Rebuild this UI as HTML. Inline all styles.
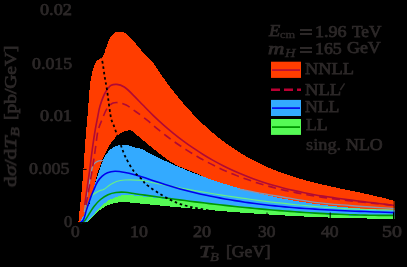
<!DOCTYPE html>
<html><head><meta charset="utf-8"><style>*{margin:0;padding:0}
html,body{width:407px;height:267px;background:#000;overflow:hidden;position:relative}
.t{position:absolute;font-family:"Liberation Serif",serif;color:#2c2828;white-space:nowrap;line-height:1;font-weight:normal;-webkit-text-stroke:0.75px currentColor;transform-origin:0 0;will-change:transform}
.sub{font-size:70%;vertical-align:-0.25em}
.ylab{position:absolute;font-family:"Liberation Serif",serif;color:#2c2828;white-space:nowrap;line-height:1;font-weight:normal;-webkit-text-stroke:0.75px currentColor;transform-origin:0 0;will-change:transform}
</style></head>
<body>
<svg width="407" height="267" viewBox="0 0 407 267" style="position:absolute;left:0;top:0">
<defs><clipPath id="pc"><rect x="77" y="0" width="317.5" height="223.5"/></clipPath></defs>
<g clip-path="url(#pc)">
<path d="M78.30 223.00 C78.93 217.00 79.61 210.73 80.20 205.00 C80.74 199.77 81.20 195.36 81.70 190.00 C82.27 183.81 82.90 176.67 83.40 170.00 C83.90 163.34 84.23 156.67 84.70 150.00 C85.17 143.33 85.72 135.52 86.20 130.00 C86.54 126.09 86.89 123.41 87.20 120.00 C87.53 116.42 87.78 113.17 88.10 109.00 C88.53 103.53 88.99 95.32 89.50 90.00 C89.87 86.13 90.13 83.36 90.70 80.00 C91.29 76.53 92.03 72.67 93.00 69.50 C93.84 66.75 94.70 63.87 96.00 62.00 C96.99 60.57 98.33 59.63 99.50 58.80 C100.49 58.10 101.75 57.99 102.50 57.20 C103.26 56.40 103.53 55.17 104.00 54.00 C104.54 52.64 104.95 51.07 105.50 49.50 C106.11 47.75 106.77 45.86 107.50 44.00 C108.27 42.03 108.89 39.83 110.00 38.00 C111.12 36.16 112.50 34.08 114.20 33.00 C115.80 31.98 117.93 31.50 119.80 31.50 C121.67 31.50 123.57 31.96 125.40 33.00 C127.73 34.32 130.00 37.24 132.20 39.60 C134.50 42.06 136.82 45.05 138.90 47.50 C140.72 49.64 142.02 51.33 144.00 53.50 C146.54 56.28 150.08 59.10 153.00 62.67 C156.44 66.87 159.61 72.63 163.00 77.39 C166.28 82.00 169.62 86.48 173.00 90.82 C176.29 95.02 179.62 99.09 183.00 103.02 C186.29 106.84 189.62 110.53 193.00 114.08 C196.29 117.53 199.62 120.86 203.00 124.05 C206.29 127.17 209.63 130.15 213.00 133.01 C216.30 135.81 219.63 138.48 223.00 141.03 C226.30 143.53 229.64 145.91 233.00 148.18 C236.30 150.41 239.64 152.52 243.00 154.52 C246.31 156.50 249.64 158.36 253.00 160.13 C256.31 161.88 259.65 163.52 263.00 165.08 C266.31 166.62 269.65 168.06 273.00 169.43 C276.32 170.78 279.65 172.05 283.00 173.25 C286.32 174.45 289.66 175.56 293.00 176.62 C296.32 177.68 299.66 178.66 303.00 179.60 C306.33 180.54 309.66 181.42 313.00 182.27 C316.33 183.11 319.66 183.91 323.00 184.68 C326.33 185.46 329.66 186.19 333.00 186.92 C336.33 187.65 339.67 188.35 343.00 189.05 C346.33 189.76 349.67 190.44 353.00 191.14 C356.33 191.84 359.67 192.54 363.00 193.26 C366.34 193.99 369.67 194.72 373.00 195.48 C376.34 196.25 379.67 197.04 383.00 197.87 C386.34 198.71 391.14 200.00 393.00 200.50 C393.72 200.70 394.00 200.78 394.50 200.92 L394.50 212.00 C351.33 207.67 298.31 206.26 265.00 199.00 C243.21 194.25 223.65 185.69 212.30 181.00 C206.67 178.68 203.63 176.67 200.00 175.00 C197.18 173.70 194.92 172.76 192.40 171.70 C189.92 170.66 187.48 169.70 185.00 168.70 C182.51 167.70 179.95 166.92 177.50 165.70 C174.95 164.43 172.47 162.80 170.00 161.20 C167.47 159.57 164.97 157.84 162.50 156.00 C159.97 154.11 157.50 152.00 155.00 150.00 C152.50 148.00 149.98 146.07 147.50 144.00 C144.98 141.90 142.06 139.12 140.00 137.50 C138.64 136.43 137.76 135.99 136.50 135.00 C134.89 133.75 132.92 131.13 131.20 130.50 C129.94 130.04 128.92 130.23 127.50 130.50 C125.40 130.90 122.35 131.95 120.00 133.50 C117.31 135.28 114.67 138.25 112.50 141.00 C110.34 143.75 108.63 147.05 107.00 150.00 C105.50 152.71 104.11 155.39 103.00 158.00 C101.98 160.38 101.40 162.46 100.50 165.00 C99.43 168.04 98.18 171.06 97.00 175.00 C95.36 180.49 93.98 188.38 92.00 195.00 C89.99 201.71 87.83 210.02 85.00 215.00 C83.01 218.50 80.53 220.33 78.30 223.00 Z" fill="#ff3d00" shape-rendering="crispEdges"/>
<path d="M79.00 223.00 C82.40 217.00 86.62 211.33 89.20 205.00 C91.78 198.67 92.66 191.16 94.50 185.00 C96.11 179.61 97.83 174.71 99.50 170.00 C101.00 165.76 102.34 161.24 104.00 158.00 C105.24 155.57 106.52 153.75 108.00 152.00 C109.37 150.38 110.68 148.93 112.50 147.80 C114.58 146.51 117.46 145.46 120.00 145.00 C122.46 144.56 125.03 144.60 127.50 145.00 C130.03 145.41 132.73 146.95 135.00 147.50 C136.81 147.94 138.11 147.65 140.00 148.27 C142.83 149.19 146.66 151.79 150.00 153.49 C153.32 155.17 156.66 156.82 160.00 158.42 C163.32 160.01 166.66 161.57 170.00 163.08 C173.32 164.58 176.66 166.04 180.00 167.46 C183.33 168.87 186.66 170.25 190.00 171.58 C193.33 172.91 196.66 174.20 200.00 175.45 C203.33 176.69 206.66 177.89 210.00 179.06 C213.33 180.22 216.66 181.35 220.00 182.43 C223.33 183.52 226.66 184.56 230.00 185.57 C233.33 186.58 236.66 187.55 240.00 188.49 C243.33 189.42 246.66 190.32 250.00 191.18 C253.33 192.04 256.66 192.87 260.00 193.66 C263.33 194.46 266.66 195.22 270.00 195.94 C273.33 196.67 276.66 197.36 280.00 198.03 C283.33 198.69 286.66 199.32 290.00 199.92 C293.33 200.52 296.66 201.09 300.00 201.63 C303.33 202.17 306.66 202.68 310.00 203.17 C313.33 203.65 316.66 204.11 320.00 204.54 C323.33 204.97 326.67 205.37 330.00 205.75 C333.33 206.13 336.67 206.48 340.00 206.81 C343.33 207.14 346.67 207.45 350.00 207.73 C353.33 208.01 356.67 208.27 360.00 208.51 C363.33 208.75 366.67 208.96 370.00 209.16 C373.33 209.35 376.67 209.53 380.00 209.69 C383.33 209.84 387.32 210.00 390.00 210.10 C391.80 210.17 393.00 210.20 394.50 210.25 L394.50 215.69 C391.33 215.75 388.21 215.83 385.00 215.87 C381.71 215.91 378.33 215.93 375.00 215.93 C371.67 215.93 368.33 215.91 365.00 215.87 C361.67 215.82 358.33 215.76 355.00 215.68 C351.67 215.60 348.33 215.49 345.00 215.38 C341.67 215.26 338.33 215.12 335.00 214.97 C331.67 214.82 328.33 214.65 325.00 214.46 C321.67 214.28 318.33 214.08 315.00 213.86 C311.67 213.65 308.33 213.42 305.00 213.18 C301.67 212.94 298.33 212.68 295.00 212.42 C291.67 212.15 288.33 211.88 285.00 211.59 C281.67 211.30 278.33 211.00 275.00 210.70 C271.67 210.39 268.33 210.07 265.00 209.75 C261.67 209.42 258.33 209.09 255.00 208.75 C251.67 208.41 248.33 208.07 245.00 207.71 C241.67 207.36 238.33 207.00 235.00 206.64 C231.67 206.28 228.33 205.91 225.00 205.55 C221.67 205.18 218.33 204.80 215.00 204.43 C211.67 204.05 208.33 203.68 205.00 203.30 C201.67 202.92 198.33 202.54 195.00 202.16 C191.67 201.79 188.33 201.41 185.00 201.03 C181.67 200.66 178.33 200.28 175.00 199.91 C171.67 199.54 168.33 199.17 165.00 198.81 C161.67 198.44 158.33 198.08 155.00 197.72 C151.67 197.37 148.33 197.02 145.00 196.68 C141.67 196.33 138.33 195.99 135.00 195.66 C131.67 195.33 128.02 194.44 125.00 194.70 C122.44 194.92 120.50 195.76 118.00 196.60 C114.98 197.61 111.27 198.64 108.20 200.50 C104.91 202.49 101.72 205.66 99.00 208.40 C96.51 210.91 94.67 213.85 92.40 216.20 C90.29 218.38 87.48 221.04 85.90 222.10 C85.13 222.62 84.63 222.70 84.00 223.00 Z" fill="#33aaff" shape-rendering="crispEdges"/>
<path d="M84.00 223.00 C84.63 222.70 85.13 222.62 85.90 222.10 C87.48 221.04 90.29 218.38 92.40 216.20 C94.67 213.85 96.51 210.91 99.00 208.40 C101.72 205.66 104.91 202.49 108.20 200.50 C111.27 198.64 114.98 197.61 118.00 196.60 C120.50 195.76 122.44 194.92 125.00 194.70 C128.02 194.44 131.67 195.33 135.00 195.66 C138.33 195.99 141.67 196.33 145.00 196.68 C148.33 197.02 151.67 197.37 155.00 197.72 C158.33 198.08 161.67 198.44 165.00 198.81 C168.33 199.17 171.67 199.54 175.00 199.91 C178.33 200.28 181.67 200.66 185.00 201.03 C188.33 201.41 191.67 201.79 195.00 202.16 C198.33 202.54 201.67 202.92 205.00 203.30 C208.33 203.68 211.67 204.05 215.00 204.43 C218.33 204.80 221.67 205.18 225.00 205.55 C228.33 205.91 231.67 206.28 235.00 206.64 C238.33 207.00 241.67 207.36 245.00 207.71 C248.33 208.07 251.67 208.41 255.00 208.75 C258.33 209.09 261.67 209.42 265.00 209.75 C268.33 210.07 271.67 210.39 275.00 210.70 C278.33 211.00 281.67 211.30 285.00 211.59 C288.33 211.88 291.67 212.15 295.00 212.42 C298.33 212.68 301.67 212.94 305.00 213.18 C308.33 213.42 311.67 213.65 315.00 213.86 C318.33 214.08 321.67 214.28 325.00 214.46 C328.33 214.65 331.67 214.82 335.00 214.97 C338.33 215.12 341.67 215.26 345.00 215.38 C348.33 215.49 351.67 215.60 355.00 215.68 C358.33 215.76 361.67 215.82 365.00 215.87 C368.33 215.91 371.67 215.93 375.00 215.93 C378.33 215.93 381.71 215.91 385.00 215.87 C388.21 215.83 391.33 215.75 394.50 215.69 L394.50 218.68 C394.03 218.68 393.78 218.68 393.10 218.68 C391.28 218.68 386.43 218.69 383.10 218.67 C379.77 218.66 376.43 218.63 373.10 218.60 C369.77 218.56 366.43 218.52 363.10 218.46 C359.77 218.41 356.43 218.34 353.10 218.27 C349.77 218.19 346.43 218.11 343.10 218.01 C339.77 217.92 336.43 217.81 333.10 217.70 C329.77 217.59 326.43 217.47 323.10 217.34 C319.77 217.21 316.43 217.07 313.10 216.92 C309.77 216.78 306.43 216.62 303.10 216.46 C299.77 216.30 296.43 216.13 293.10 215.95 C289.77 215.77 286.43 215.58 283.10 215.39 C279.77 215.19 276.43 214.99 273.10 214.79 C269.77 214.58 266.43 214.36 263.10 214.14 C259.77 213.92 256.43 213.69 253.10 213.46 C249.77 213.22 246.43 212.98 243.10 212.73 C239.77 212.49 236.43 212.23 233.10 211.98 C229.77 211.72 226.43 211.45 223.10 211.18 C219.77 210.91 216.43 210.64 213.10 210.36 C209.77 210.08 206.43 209.80 203.10 209.51 C199.77 209.22 196.43 208.92 193.10 208.62 C189.77 208.33 186.43 208.02 183.10 207.72 C179.77 207.41 176.43 207.10 173.10 206.78 C169.77 206.47 166.43 206.15 163.10 205.83 C159.77 205.51 156.43 205.18 153.10 204.85 C149.77 204.53 146.43 204.20 143.10 203.86 C139.77 203.53 136.43 203.19 133.10 202.85 C129.77 202.51 125.88 201.79 123.10 201.83 C121.11 201.86 119.96 202.11 118.00 202.50 C115.25 203.04 111.21 203.85 108.20 205.10 C105.34 206.29 102.73 207.93 100.30 209.70 C97.91 211.44 95.59 213.81 93.70 215.60 C92.21 217.01 91.13 218.28 89.80 219.50 C88.52 220.67 87.45 222.13 85.90 222.80 C84.23 223.53 81.97 223.27 80.00 223.50 Z" fill="#55fa55" shape-rendering="crispEdges"/>
<path d="M84.30 212.00 C85.20 206.33 86.00 200.74 87.00 195.00 C88.03 189.08 89.48 181.89 90.40 177.00 C91.03 173.64 91.28 170.88 92.00 168.50 C92.56 166.67 93.02 165.02 94.00 163.80 C94.90 162.68 96.27 161.83 97.50 161.30 C98.62 160.82 99.93 160.71 101.00 160.60 C101.90 160.51 102.67 160.60 103.50 160.60" fill="none" stroke="#8a94b0" stroke-width="1.3"/>
<path d="M238.00 189.00 C242.00 189.73 245.78 190.42 250.00 191.20 C254.72 192.07 260.00 193.12 265.00 194.00 C270.00 194.88 273.96 195.50 280.00 196.50 C289.23 198.03 303.31 200.80 315.00 202.30 C326.64 203.79 337.63 204.50 350.00 205.50 C363.94 206.62 379.67 207.57 394.50 208.60" fill="none" stroke="#8a94b0" stroke-width="1.3"/>
<path d="M84.00 218.00 C85.07 213.90 85.76 209.57 87.20 205.70 C88.59 201.99 90.20 197.69 92.40 195.20 C94.14 193.24 96.56 192.14 98.50 191.20 C100.06 190.44 101.91 190.13 103.00 189.70 C103.64 189.44 103.86 189.38 104.50 189.00 C105.86 188.18 108.44 185.77 110.50 184.50 C112.45 183.30 114.27 182.24 116.50 181.50 C119.03 180.66 121.67 180.25 125.00 180.00 C129.64 179.66 136.94 179.90 141.80 180.45 C145.58 180.88 148.47 181.82 151.80 182.48 C155.13 183.15 158.47 183.81 161.80 184.46 C165.13 185.12 168.47 185.76 171.80 186.39 C175.13 187.02 178.47 187.64 181.80 188.25 C185.13 188.87 188.47 189.47 191.80 190.06 C195.13 190.65 198.47 191.23 201.80 191.80 C205.13 192.37 208.47 192.93 211.80 193.48 C215.13 194.02 218.47 194.56 221.80 195.09 C225.13 195.61 228.47 196.12 231.80 196.62 C235.13 197.13 238.47 197.62 241.80 198.09 C245.13 198.57 248.47 199.03 251.80 199.49 C255.13 199.94 258.47 200.38 261.80 200.80 C265.13 201.23 268.47 201.64 271.80 202.04 C275.13 202.44 278.47 202.83 281.80 203.20 C285.13 203.57 288.47 203.93 291.80 204.28 C295.13 204.62 298.47 204.95 301.80 205.27 C305.13 205.58 308.47 205.89 311.80 206.17 C315.13 206.46 318.47 206.73 321.80 206.99 C325.13 207.24 328.47 207.49 331.80 207.71 C335.13 207.94 338.47 208.15 341.80 208.34 C345.13 208.53 348.47 208.71 351.80 208.87 C355.13 209.04 358.47 209.18 361.80 209.31 C365.13 209.44 368.47 209.55 371.80 209.65 C375.13 209.74 378.47 209.82 381.80 209.88 C385.13 209.94 389.52 209.98 391.80 210.01 C392.98 210.02 393.60 210.02 394.50 210.02" fill="none" stroke="#66ee88" stroke-width="1.2"/>
<path d="M81.00 223.00 C82.20 222.27 83.49 221.88 84.60 220.80 C86.04 219.41 87.09 217.04 88.50 214.90 C90.18 212.35 91.97 209.09 94.00 206.50 C95.98 203.97 98.12 201.49 100.50 199.50 C102.80 197.58 105.37 195.87 108.00 194.70 C110.54 193.57 113.23 192.91 116.00 192.50 C118.89 192.07 121.93 192.07 125.00 192.25 C128.25 192.44 131.67 193.23 135.00 193.72 C138.33 194.20 141.67 194.68 145.00 195.16 C148.33 195.63 151.67 196.10 155.00 196.57 C158.33 197.03 161.67 197.49 165.00 197.94 C168.33 198.39 171.67 198.84 175.00 199.28 C178.33 199.72 181.67 200.15 185.00 200.58 C188.33 201.00 191.67 201.43 195.00 201.84 C198.33 202.25 201.67 202.66 205.00 203.06 C208.33 203.46 211.67 203.85 215.00 204.23 C218.33 204.61 221.67 204.99 225.00 205.36 C228.33 205.73 231.67 206.09 235.00 206.44 C238.33 206.79 241.67 207.13 245.00 207.47 C248.33 207.80 251.67 208.13 255.00 208.44 C258.33 208.76 261.67 209.07 265.00 209.36 C268.33 209.66 271.67 209.95 275.00 210.23 C278.33 210.51 281.67 210.78 285.00 211.04 C288.33 211.29 291.67 211.54 295.00 211.78 C298.33 212.02 301.67 212.25 305.00 212.46 C308.33 212.68 311.67 212.88 315.00 213.08 C318.33 213.27 321.67 213.46 325.00 213.63 C328.33 213.80 331.67 213.96 335.00 214.11 C338.33 214.26 341.67 214.39 345.00 214.52 C348.33 214.64 351.67 214.75 355.00 214.85 C358.33 214.95 361.67 215.04 365.00 215.11 C368.33 215.19 371.67 215.25 375.00 215.30 C378.33 215.34 381.71 215.38 385.00 215.40 C388.21 215.42 391.33 215.41 394.50 215.42" fill="none" stroke="#009900" stroke-width="1.6"/>
<path d="M80.00 223.00 C81.07 222.07 82.28 221.61 83.20 220.20 C84.68 217.93 85.33 213.30 86.50 209.70 C87.75 205.87 89.19 201.42 90.50 197.90 C91.58 194.99 92.53 192.67 93.70 190.00 C94.92 187.20 96.15 183.91 97.70 181.50 C99.04 179.42 100.52 177.67 102.20 176.20 C103.80 174.80 105.49 173.61 107.50 172.80 C109.71 171.91 112.31 171.40 115.00 171.30 C118.09 171.18 121.12 171.76 125.00 172.50 C130.55 173.56 139.50 176.08 145.00 177.76 C148.93 178.96 151.66 180.12 155.00 181.24 C158.33 182.35 161.66 183.42 165.00 184.46 C168.33 185.49 171.66 186.48 175.00 187.43 C178.33 188.38 181.66 189.29 185.00 190.16 C188.33 191.03 191.66 191.86 195.00 192.66 C198.33 193.46 201.66 194.22 205.00 194.95 C208.33 195.68 211.66 196.37 215.00 197.04 C218.33 197.70 221.66 198.33 225.00 198.93 C228.33 199.53 231.66 200.10 235.00 200.64 C238.33 201.18 241.66 201.70 245.00 202.18 C248.33 202.67 251.67 203.13 255.00 203.57 C258.33 204.00 261.67 204.41 265.00 204.80 C268.33 205.19 271.67 205.56 275.00 205.90 C278.33 206.25 281.67 206.57 285.00 206.88 C288.33 207.18 291.67 207.47 295.00 207.74 C298.33 208.01 301.67 208.26 305.00 208.50 C308.33 208.74 311.67 208.96 315.00 209.17 C318.33 209.38 321.67 209.58 325.00 209.77 C328.33 209.95 331.67 210.12 335.00 210.29 C338.33 210.46 341.67 210.61 345.00 210.76 C348.33 210.91 351.67 211.05 355.00 211.18 C358.33 211.32 361.67 211.45 365.00 211.57 C368.33 211.70 371.67 211.82 375.00 211.94 C378.33 212.06 381.71 212.18 385.00 212.30 C388.21 212.42 391.33 212.53 394.50 212.64" fill="none" stroke="#0000ee" stroke-width="1.6"/>
<path d="M84.70 205.00 C86.37 193.33 88.35 180.05 89.70 170.00 C90.72 162.41 91.28 156.66 92.20 150.00 C93.12 143.33 94.21 135.81 95.20 130.00 C95.97 125.48 96.70 122.00 97.50 118.00 C98.30 114.00 98.76 110.10 100.00 106.00 C101.37 101.45 103.40 95.68 105.60 92.00 C107.27 89.20 109.07 86.50 111.20 85.30 C112.93 84.32 114.90 84.22 116.90 84.40 C119.23 84.61 121.84 85.53 124.30 87.00 C127.44 88.88 130.61 92.60 133.70 95.60 C136.88 98.69 139.91 102.04 143.10 105.29 C146.37 108.61 149.73 112.06 153.10 115.30 C156.40 118.48 159.74 121.56 163.10 124.54 C166.40 127.46 169.74 130.30 173.10 133.04 C176.41 135.73 179.74 138.32 183.10 140.83 C186.41 143.30 189.74 145.67 193.10 147.96 C196.41 150.21 199.74 152.37 203.10 154.45 C206.41 156.50 209.75 158.47 213.10 160.35 C216.41 162.21 219.75 163.99 223.10 165.69 C226.42 167.38 229.75 168.98 233.10 170.51 C236.42 172.02 239.75 173.46 243.10 174.83 C246.42 176.19 249.76 177.48 253.10 178.71 C256.42 179.92 259.76 181.07 263.10 182.16 C266.42 183.25 269.76 184.27 273.10 185.24 C276.43 186.20 279.76 187.10 283.10 187.96 C286.43 188.82 289.76 189.62 293.10 190.38 C296.43 191.14 299.76 191.85 303.10 192.52 C306.43 193.19 309.76 193.82 313.10 194.42 C316.43 195.02 319.76 195.59 323.10 196.12 C326.43 196.66 329.77 197.17 333.10 197.66 C336.43 198.14 339.77 198.61 343.10 199.06 C346.43 199.51 349.77 199.94 353.10 200.36 C356.43 200.78 359.77 201.19 363.10 201.60 C366.43 202.01 369.77 202.41 373.10 202.82 C376.43 203.23 379.77 203.63 383.10 204.05 C386.43 204.47 391.28 205.09 393.10 205.33 C393.78 205.41 394.03 205.45 394.50 205.51" fill="none" stroke="#b00a34" stroke-width="1.6"/>
<path d="M86.00 205.00 C88.07 193.33 90.56 180.05 92.20 170.00 C93.44 162.42 94.20 156.67 95.20 150.00 C96.20 143.33 96.80 135.46 98.20 130.00 C99.22 126.03 100.46 123.47 101.90 120.00 C103.51 116.11 105.25 110.75 107.50 107.80 C109.16 105.62 111.09 103.91 113.10 103.10 C114.86 102.39 116.72 102.47 118.70 102.70 C121.04 102.97 123.66 103.77 126.20 105.00 C129.27 106.49 132.35 109.16 135.60 111.50 C139.19 114.08 143.22 117.02 146.80 119.88 C150.27 122.65 153.44 125.64 156.80 128.38 C160.11 131.09 163.44 133.71 166.80 136.24 C170.11 138.74 173.44 141.16 176.80 143.49 C180.11 145.79 183.45 148.01 186.80 150.14 C190.11 152.26 193.45 154.29 196.80 156.24 C200.11 158.18 203.45 160.03 206.80 161.81 C210.12 163.58 213.45 165.26 216.80 166.88 C220.12 168.48 223.45 170.01 226.80 171.48 C230.12 172.93 233.45 174.31 236.80 175.63 C240.12 176.94 243.46 178.19 246.80 179.37 C250.12 180.55 253.46 181.67 256.80 182.73 C260.12 183.79 263.46 184.79 266.80 185.73 C270.13 186.68 273.46 187.57 276.80 188.41 C280.13 189.25 283.46 190.04 286.80 190.79 C290.13 191.53 293.46 192.23 296.80 192.90 C300.13 193.56 303.46 194.18 306.80 194.77 C310.13 195.35 313.46 195.90 316.80 196.43 C320.13 196.95 323.46 197.44 326.80 197.90 C330.13 198.37 333.47 198.81 336.80 199.23 C340.13 199.65 343.47 200.05 346.80 200.43 C350.13 200.82 353.47 201.18 356.80 201.54 C360.13 201.90 363.47 202.24 366.80 202.58 C370.13 202.92 373.47 203.25 376.80 203.59 C380.13 203.92 383.68 204.27 386.80 204.59 C389.53 204.86 391.93 205.11 394.50 205.37" fill="none" stroke="#b00a34" stroke-width="1.6" stroke-dasharray="8 5"/>
<path d="M93.00 30.00 C94.33 35.00 95.73 40.51 97.00 45.00 C98.04 48.68 99.04 52.26 100.00 55.00 C100.69 56.97 101.39 57.80 102.00 60.00 C103.08 63.93 103.83 71.77 104.70 76.90 C105.42 81.19 106.00 83.82 106.80 88.70 C108.10 96.63 109.96 114.55 111.50 120.00 C112.07 122.02 112.55 122.32 113.20 124.00 C114.27 126.75 115.75 131.26 117.10 135.00 C118.51 138.92 120.10 143.29 121.50 147.00 C122.72 150.22 123.38 152.65 125.00 156.00 C127.24 160.63 130.97 167.61 134.30 171.90 C136.98 175.36 140.89 178.11 142.80 180.30 C143.91 181.57 143.81 182.19 145.20 183.50 C148.92 187.00 161.67 195.39 169.00 199.20 C174.70 202.16 179.69 203.90 185.00 205.50 C190.02 207.01 194.13 207.56 200.00 208.70 C208.27 210.31 219.27 212.25 230.00 214.00 C242.36 216.02 255.91 218.10 270.00 220.00 C285.72 222.12 303.33 224.00 320.00 226.00" fill="none" stroke="#000" stroke-width="1.8" stroke-dasharray="2.6 2.8"/>
<line x1="140.5" y1="223" x2="140.5" y2="212.5" stroke="#000" stroke-width="1"/><line x1="203.7" y1="223" x2="203.7" y2="212.5" stroke="#000" stroke-width="1"/><line x1="267.0" y1="223" x2="267.0" y2="212.5" stroke="#000" stroke-width="1"/><line x1="330.2" y1="223" x2="330.2" y2="212.5" stroke="#000" stroke-width="1"/><line x1="393.5" y1="223" x2="393.5" y2="212.5" stroke="#000" stroke-width="1"/><line x1="77.2" y1="222.6" x2="86.6" y2="222.6" stroke="#000" stroke-width="1"/><line x1="384" y1="222.6" x2="393.6" y2="222.6" stroke="#000" stroke-width="1"/><line x1="77.2" y1="169.4" x2="86.6" y2="169.4" stroke="#000" stroke-width="1"/><line x1="384" y1="169.4" x2="393.6" y2="169.4" stroke="#000" stroke-width="1"/><line x1="77.2" y1="116.4" x2="86.6" y2="116.4" stroke="#000" stroke-width="1"/><line x1="384" y1="116.4" x2="393.6" y2="116.4" stroke="#000" stroke-width="1"/><line x1="77.2" y1="63.5" x2="86.6" y2="63.5" stroke="#000" stroke-width="1"/><line x1="384" y1="63.5" x2="393.6" y2="63.5" stroke="#000" stroke-width="1"/><line x1="77.2" y1="10.5" x2="86.6" y2="10.5" stroke="#000" stroke-width="1"/><line x1="384" y1="10.5" x2="393.6" y2="10.5" stroke="#000" stroke-width="1"/>
<line x1="393.8" y1="223" x2="393.8" y2="195" stroke="#000" stroke-width="0.6" stroke-opacity="0.7"/>
</g>
<rect x="271" y="61.7" width="30" height="16.2" fill="#ff3d00"/>
<rect x="272" y="69.2" width="28" height="1.8" fill="#bb1133"/>
<line x1="271" y1="89.7" x2="301" y2="89.7" stroke="#bb0033" stroke-width="2.6" stroke-dasharray="9 4"/>
<rect x="271" y="99.9" width="30" height="16.1" fill="#33aaff"/>
<rect x="272" y="107.3" width="28" height="1.6" fill="#0000ee"/>
<rect x="271" y="119" width="30" height="15.9" fill="#55fa55"/>
<rect x="272" y="126.2" width="28" height="1.8" fill="#009900"/>
</svg><div class="t" id="y002" style="left:39.60px;top:2.40px;font-size:16.50px;transform:scaleX(1.1046);">0.02</div>
<div class="t" id="y0015" style="left:32.00px;top:55.60px;font-size:16.50px;transform:scaleX(1.0811);">0.015</div>
<div class="t" id="y001" style="left:39.60px;top:107.60px;font-size:16.50px;transform:scaleX(1.1077);">0.01</div>
<div class="t" id="y0005" style="left:28.60px;top:160.60px;font-size:16.50px;transform:scaleX(1.0868);">0.005</div>
<div class="t" id="y0" style="left:64.20px;top:213.60px;font-size:16.50px;transform:scaleX(1.0000);">0</div>
<div class="t" id="x0" style="left:71.00px;top:224.20px;font-size:16.50px;transform:scaleX(1.0509);">0</div>
<div class="t" id="x10" style="left:130.40px;top:223.80px;font-size:16.50px;transform:scaleX(1.0814);">10</div>
<div class="t" id="x20" style="left:193.20px;top:224.20px;font-size:16.50px;transform:scaleX(1.1002);">20</div>
<div class="t" id="x30" style="left:257.60px;top:224.20px;font-size:16.50px;transform:scaleX(1.0515);">30</div>
<div class="t" id="x40" style="left:320.80px;top:224.20px;font-size:16.50px;transform:scaleX(1.0642);">40</div>
<div class="t" id="x50" style="left:382.40px;top:224.20px;font-size:16.50px;transform:scaleX(1.2019);">50</div>
<div class="t" id="nnll" style="left:304.80px;top:60.20px;font-size:17.00px;transform:scaleX(1.0802);">NNLL</div>
<div class="t" id="nllp" style="left:304.80px;top:80.80px;font-size:17.00px;transform:scaleX(1.0927);">NLL</div>
<div class="t" id="nll" style="left:305.40px;top:97.80px;font-size:17.00px;transform:scaleX(1.0425);">NLL</div>
<div class="t" id="ll" style="left:305.80px;top:116.20px;font-size:17.00px;transform:scaleX(1.0408);">LL</div>
<div class="t" id="sing1" style="left:306.40px;top:136.40px;font-size:17.50px;transform:scaleX(1.0488);-webkit-text-stroke:0.55px currentColor;">sing.</div>
<div class="t" id="sing2" style="left:346.20px;top:135.80px;font-size:17.50px;transform:scaleX(1.0225);">NLO</div>
<div class="t" id="ecmE" style="left:269.20px;top:23.20px;font-size:16.50px;transform:scaleX(1.1108);"><i>E</i></div>
<div class="t" id="ecmcm" style="left:280.40px;top:30.80px;font-size:9.37px;transform:scaleX(1.3187);-webkit-text-stroke:0.35px currentColor;">cm</div>
<div class="t" id="ecm196" style="left:314.60px;top:23.80px;font-size:16.30px;transform:scaleX(1.1117);">1.96</div>
<div class="t" id="ecmtev" style="left:352.00px;top:23.60px;font-size:16.30px;transform:scaleX(1.0572);">TeV</div>
<div class="t" id="mhm" style="left:268.40px;top:39.80px;font-size:17.00px;transform:scaleX(1.3361);"><i>m</i></div>
<div class="t" id="mhH" style="left:284.80px;top:47.80px;font-size:11.95px;transform:scaleX(1.2095);-webkit-text-stroke:0.45px currentColor;"><i>H</i></div>
<div class="t" id="mh165" style="left:314.60px;top:41.00px;font-size:16.30px;transform:scaleX(1.0961);">165</div>
<div class="t" id="mhgev" style="left:347.00px;top:40.40px;font-size:16.50px;transform:scaleX(1.0846);">GeV</div>
<div class="t" id="xT" style="left:198.80px;top:242.80px;font-size:17.00px;transform:scaleX(1.3829);"><i>T</i></div>
<div class="t" id="xB" style="left:210.20px;top:251.00px;font-size:12.57px;transform:scaleX(1.1568);-webkit-text-stroke:0.45px currentColor;"><i>B</i></div>
<div class="t" id="xgev" style="left:225.80px;top:243.40px;font-size:17.00px;transform:scaleX(1.0288);">[GeV]</div>
<div class="t" id="ylab1" style="left:2.60px;top:120.00px;font-size:16.50px;transform:rotate(-90deg) scaleX(1.1774);">[pb/GeV]</div>
<div class="t" id="ylab2" style="left:3.00px;top:187.00px;font-size:16.50px;transform:rotate(-90deg) scaleX(1.3133);">d<i>&#963;</i>/d<i>T</i><span class="sub"><i>B</i></span></div>
<div style="position:absolute;left:300px;top:29.2px;width:12.2px;height:2.0px;background:#2c2828"></div>
<div style="position:absolute;left:300px;top:33.0px;width:12.2px;height:1.8px;background:#2c2828"></div>
<div style="position:absolute;left:300px;top:47.0px;width:12.2px;height:2.0px;background:#2c2828"></div>
<div style="position:absolute;left:300px;top:51.1px;width:12.2px;height:1.8px;background:#2c2828"></div>
<svg style="position:absolute;left:0;top:0" width="407" height="267"><line x1="340.3" y1="90" x2="344.6" y2="83.4" stroke="#2c2828" stroke-width="1.4"/></svg>
</body></html>
